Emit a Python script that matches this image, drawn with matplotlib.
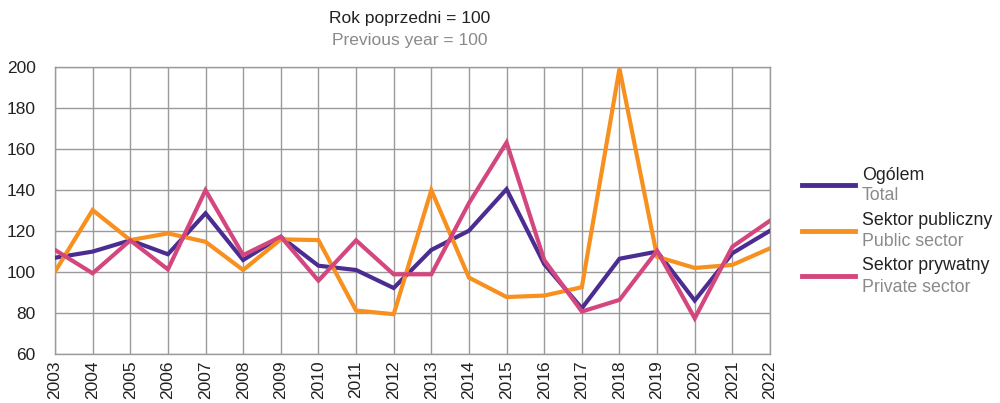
import matplotlib
matplotlib.use("Agg")
import matplotlib.pyplot as plt
from matplotlib.lines import Line2D

plt.rcParams['font.family'] = ['Liberation Sans', 'DejaVu Sans']

years = list(range(2003, 2023))
total = [106.8, 109.8, 115.3, 108.5, 128.5, 105.7, 117.0, 102.9, 100.8, 92.0,
         110.6, 120.0, 140.3, 103.7, 82.1, 106.3, 109.8, 85.9, 109.0, 120.0]
public = [100.0, 130.1, 115.4, 118.7, 114.6, 100.8, 115.8, 115.4, 81.0, 79.2,
          139.8, 97.1, 87.6, 88.3, 92.4, 199.2, 107.3, 101.8, 103.3, 111.4]
private = [110.6, 99.2, 115.3, 101.1, 139.8, 108.1, 117.1, 95.6, 115.3, 98.7,
           98.7, 133.5, 163.1, 105.7, 80.5, 86.2, 110.2, 77.2, 112.2, 124.9]

series_pl = ["Ogólem", "Sektor publiczny", "Sektor prywatny"]
series_en = ["Total", "Public sector", "Private sector"]
colors = ["#4B2D91", "#F7901E", "#D4477E"]
yticks = [60, 80, 100, 120, 140, 160, 180, 200]

fig = plt.figure(figsize=(10, 4.03), dpi=100)
ax = fig.add_axes([0.055, 1 - 353.5 / 403, 0.715, (353.5 - 67) / 403])

grid_c = "#9a9a9a"
for i, (vals, c) in enumerate(zip([total, public, private], colors)):
    ax.plot(years, vals, color=c, lw=3, solid_joinstyle='miter', zorder=3 + i)

ax.set_xlim(2003, 2022)
ax.set_ylim(60, 200)
ax.set_xticks(years)
ax.set_xticklabels([str(y) for y in years], rotation=90, fontsize=12.5)
ax.set_yticks(yticks)
ax.set_yticklabels([str(v) for v in yticks], fontsize=12.5)
ax.grid(True, color=grid_c, lw=1)
for s in ax.spines.values():
    s.set_color(grid_c)
    s.set_linewidth(1)
ax.tick_params(length=0, pad=5, colors="#222222")
ax.tick_params(axis='y', pad=14)

fig.text(0.41, 1 - 18 / 403, "Rok poprzedni = 100", ha='center', va='center', fontsize=12.5, color="#222222")
fig.text(0.41, 1 - 40 / 403, "Previous year = 100", ha='center', va='center', fontsize=12.5, color="#8a8a8a")

handle_y = [185, 231, 276]
for hy, c, pl, en in zip(handle_y, colors, series_pl, series_en):
    fig.add_artist(Line2D([0.802, 0.855], [1 - hy / 403] * 2, color=c, lw=3.5))
    fig.text(0.862, 1 - (hy - 10) / 403, pl, ha='left', va='center', fontsize=12.8, color="#222222")
    fig.text(0.862, 1 - (hy + 11) / 403, en, ha='left', va='center', fontsize=12.8, color="#8a8a8a")

fig.savefig("out.png", dpi=100)
